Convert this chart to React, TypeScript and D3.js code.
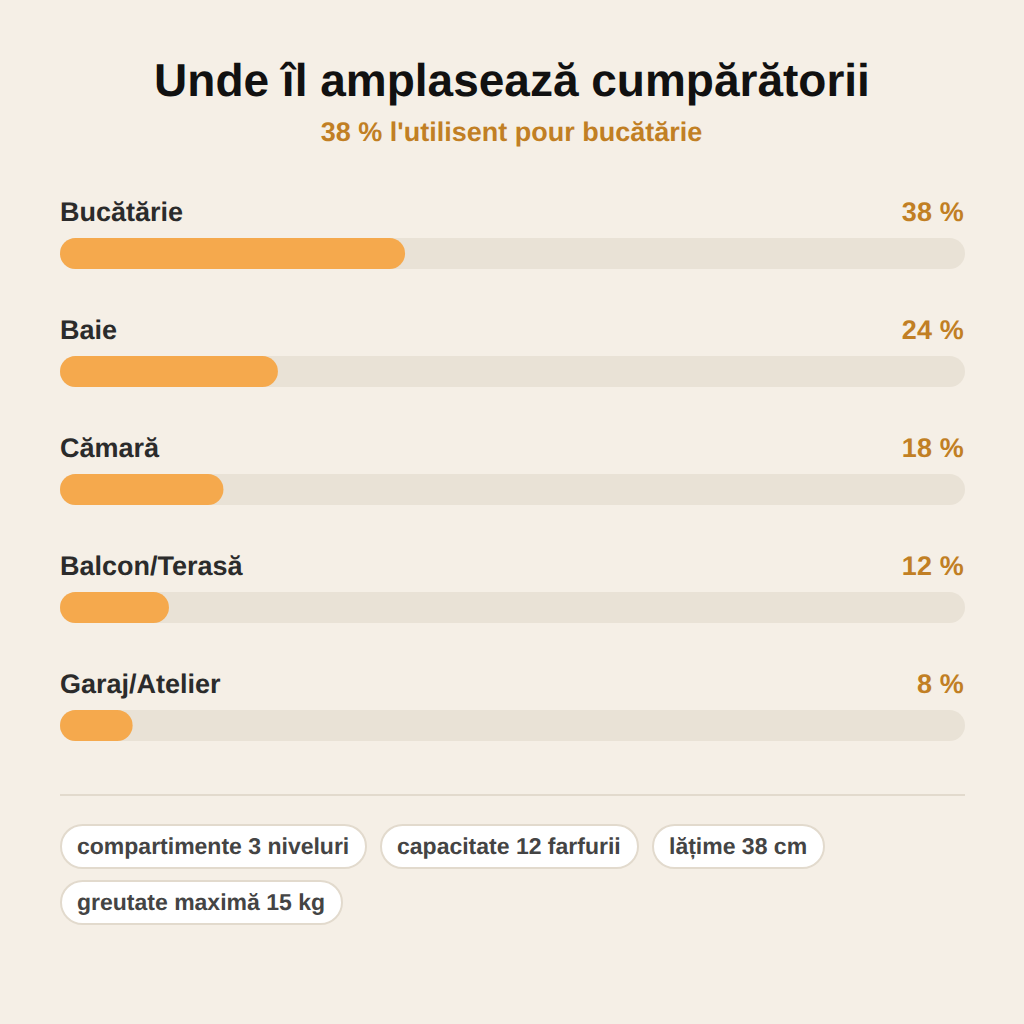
import React from "react";
import * as d3 from "d3";

const categories = ["Bucătărie", "Baie", "Cămară", "Balcon/Terasă", "Garaj/Atelier"];
const values = [38, 24, 18, 12, 8];
const chipRows = [
  [["compartimente 3 niveluri", 60, 307], ["capacitate 12 farfurii", 380, 259], ["lățime 38 cm", 652, 173]],
  [["greutate maximă 15 kg", 60, 283]],
] as [string, number, number][][];

const font = "'Liberation Sans', Arial, sans-serif";

export default function App() {
  const x = d3.scaleLinear().domain([0, 100]).range([0, 908]);
  return (
    <svg width={1024} height={1024} viewBox="0 0 1024 1024" style={{ position: "absolute", left: 0, top: 0, display: "block" }} fontFamily={font} textRendering="geometricPrecision">
      <rect width={1024} height={1024} fill="#f5efe6" />
      <g opacity={0.999}>
        <text x={512} y={96} textAnchor="middle" fontSize={46} fontWeight={700} fill="#111111">Unde îl amplasează cumpărătorii</text>
        <text x={511.5} y={141} textAnchor="middle" fontSize={27} fontWeight={700} fill="#c17f24">38 % l'utilisent pour bucătărie</text>
        {categories.map((c, i) => {
          const y = 238 + i * 118;
          return (
            <g key={c}>
              <text x={60} y={y - 17} fontSize={27} fontWeight={700} fill="#2b2b2b">{c}</text>
              <text x={964} y={y - 17} textAnchor="end" fontSize={27} fontWeight={700} letterSpacing={0.15} fill="#c17f24">{values[i]} %</text>
              <rect x={60} y={y} width={905} height={31} rx={15.5} fill="#e9e2d6" />
              <rect x={60} y={y} width={x(values[i])} height={31} rx={15.5} fill="#f5a94d" />
            </g>
          );
        })}
        <rect x={60} y={794} width={905} height={2} fill="#e2dacd" />
        {chipRows.map((row, r) =>
          row.map(([t, cx, w]) => (
            <g key={t}>
              <rect x={cx + 1} y={825 + r * 56} width={w - 2} height={43} rx={21.5} fill="#ffffff" stroke="#e2dacd" strokeWidth={2} />
              <text x={cx + 17} y={854 + r * 56} fontSize={23} fontWeight={700} fill="#444444">{t}</text>
            </g>
          ))
        )}
      </g>
    </svg>
  );
}
